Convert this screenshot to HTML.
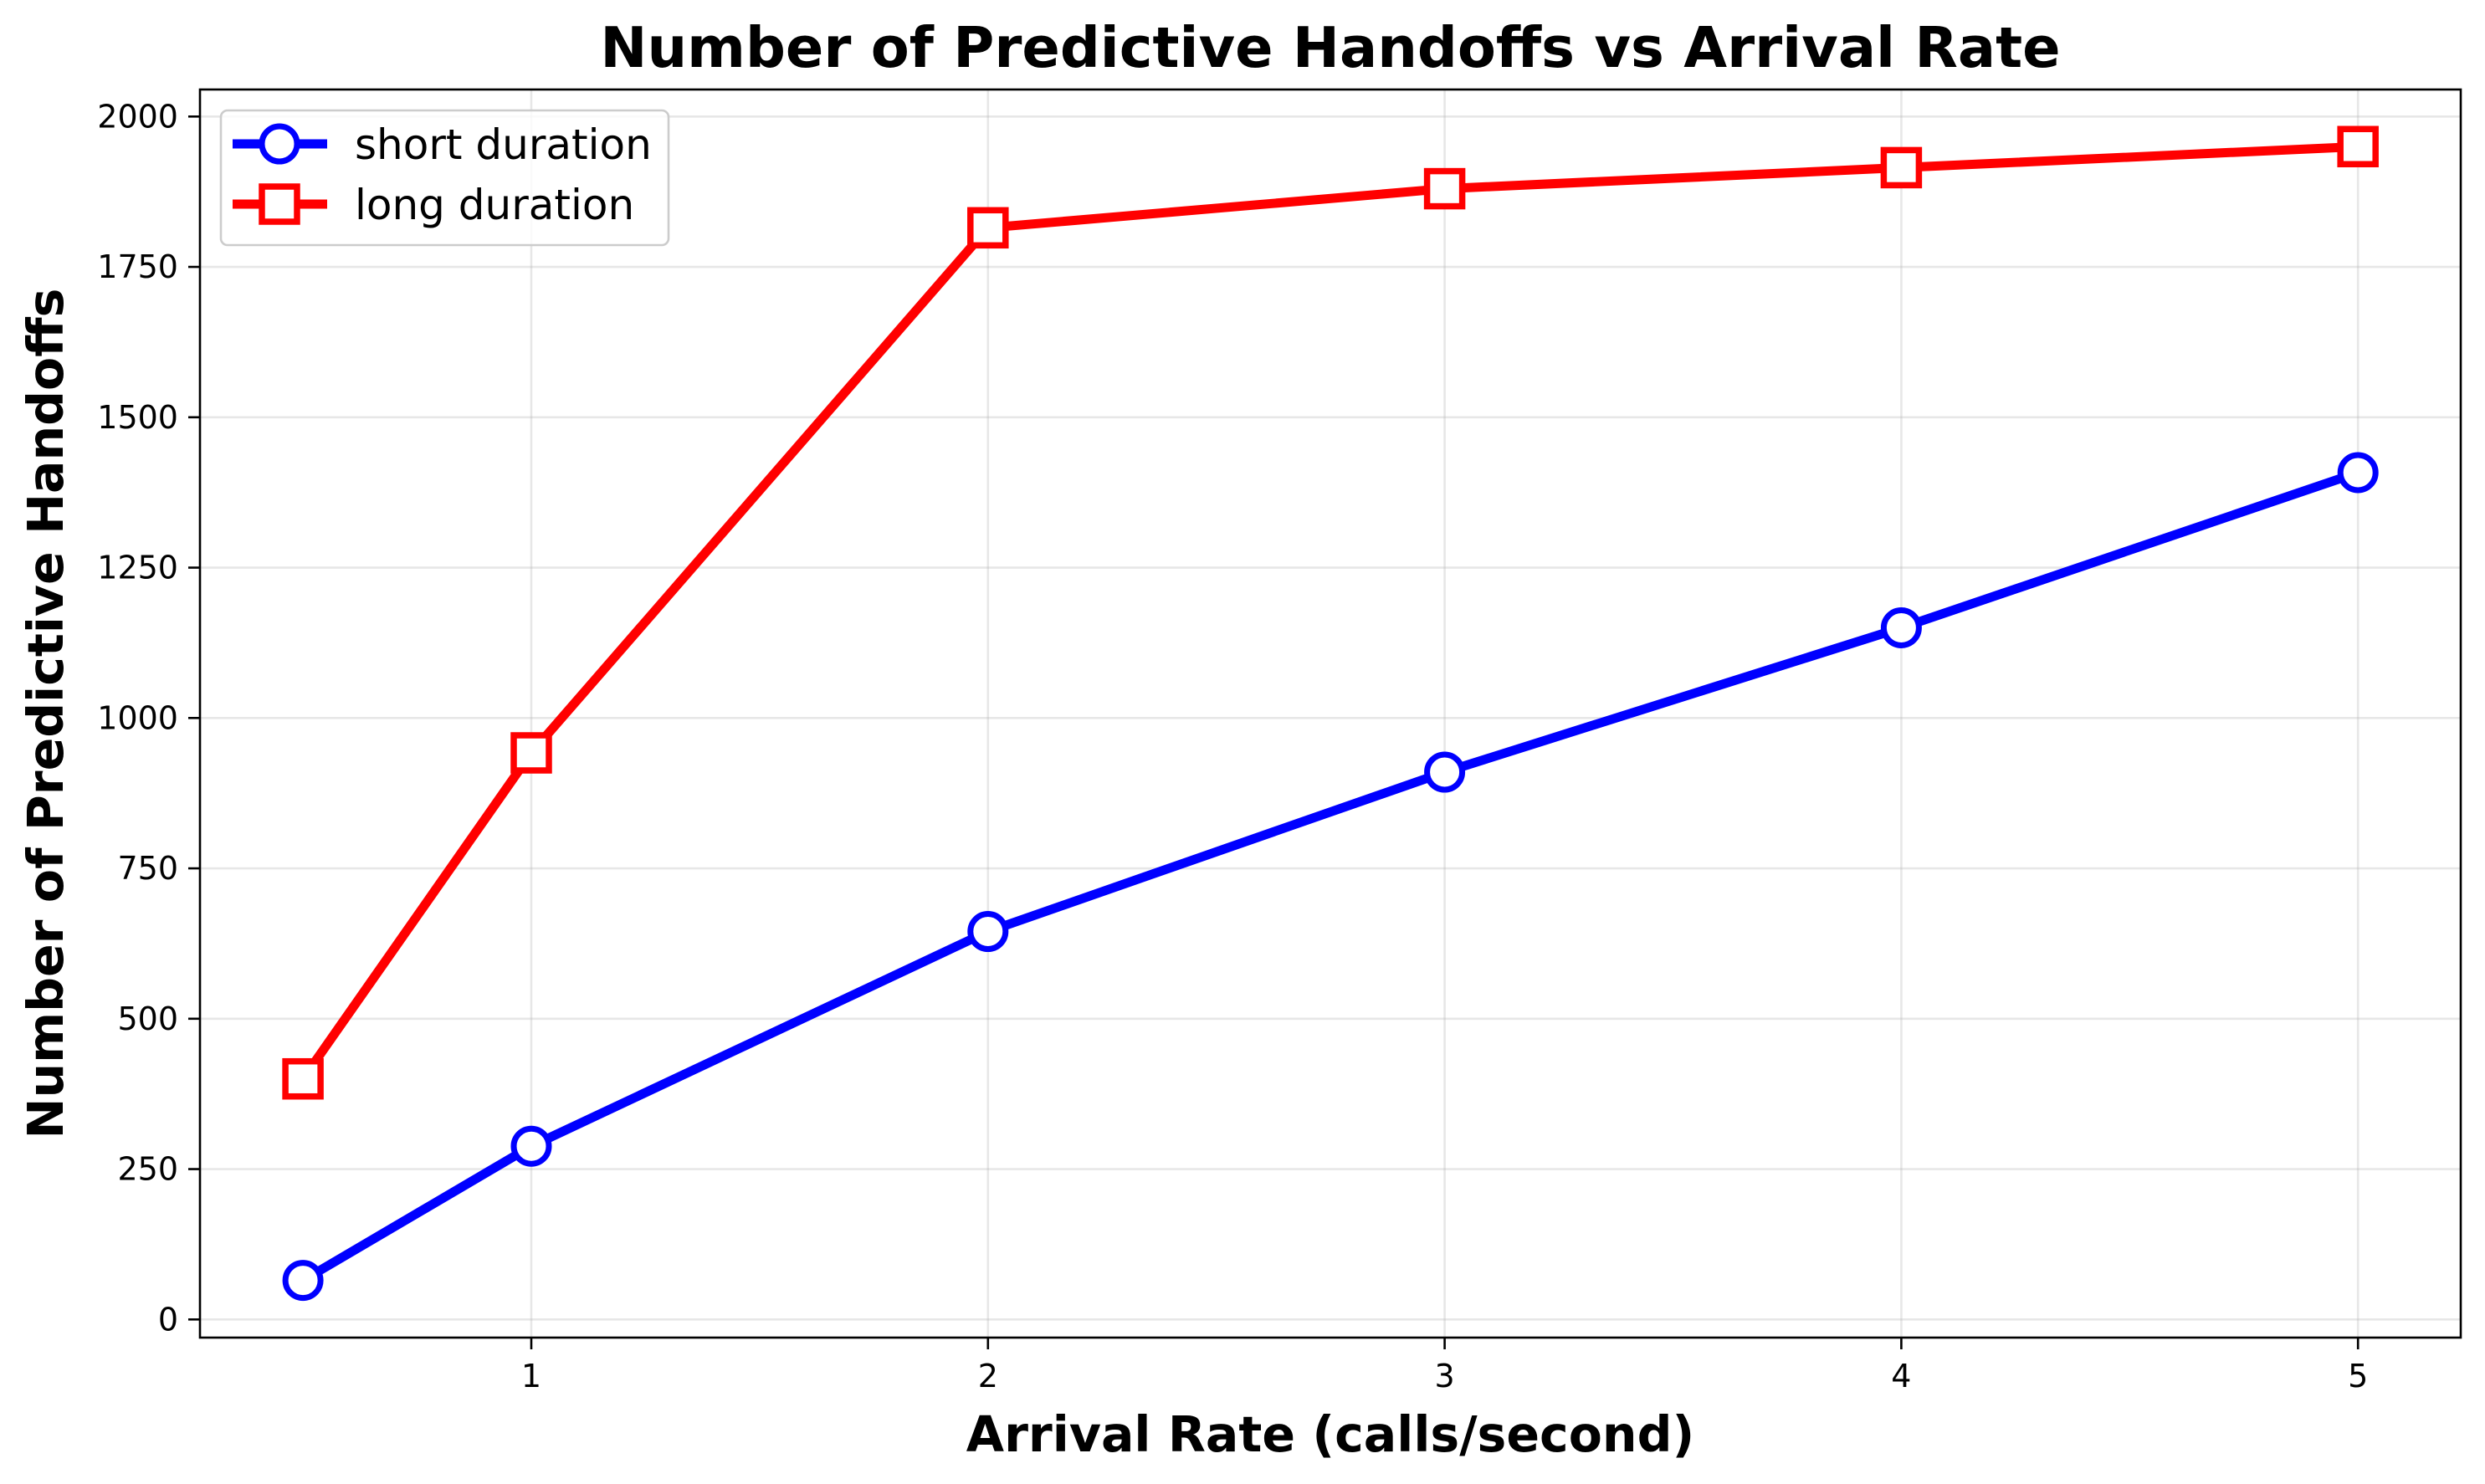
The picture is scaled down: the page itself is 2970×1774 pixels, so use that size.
<!DOCTYPE html>
<html><head><meta charset="utf-8"><style>body{margin:0;background:#fff}svg{display:block;font-family:"DejaVu Sans","Liberation Sans",sans-serif}</style></head>
<body>
<svg id="chart" width="2970" height="1774" viewBox="0 0 2970 1774" xmlns="http://www.w3.org/2000/svg">
<rect width="2970" height="1774" fill="#fff"/>
<g id="grid"></g>
<g id="series"></g>
<rect x="239" y="107" width="2702" height="1492" fill="none" stroke="#000" stroke-width="2.6"/>
<g id="ticks"></g>
<text x="1590" y="80" text-anchor="middle" font-size="67" font-weight="bold">Number of Predictive Handoffs vs Arrival Rate</text>
<text x="1590" y="1735" text-anchor="middle" font-size="58.5" font-weight="bold">Arrival Rate (calls/second)</text>
<text x="0" y="0" transform="translate(75,853) rotate(-90)" text-anchor="middle" font-size="58.5" font-weight="bold">Number of Predictive Handoffs</text>
<g>
<rect x="264" y="132" width="535" height="161" rx="8" fill="#fff" fill-opacity="0.8" stroke="#ccc" stroke-width="2.6"/>
<g>
<line x1="278" y1="172" x2="391" y2="172" stroke="#0000ff" stroke-width="11"/>
<circle cx="334" cy="172" r="21" fill="#fff" stroke="#0000ff" stroke-width="7"/>
<text x="424" y="190" font-size="50">short duration</text></g>
<g>
<line x1="278" y1="244" x2="391" y2="244" stroke="#ff0000" stroke-width="11"/>
<rect x="313" y="223" width="42" height="42" fill="#fff" stroke="#ff0000" stroke-width="7.5"/>
<text x="424" y="262" font-size="50">long duration</text></g>
</g>
</svg>
<script>
const xCats=[0.5,1,2,3,4,5];
const shortVals=[65,288,645,910,1150,1408];
const longVals=[400,942,1815,1880,1915,1950];
const xTicks=[1,2,3,4,5];
const yTicks=[0,250,500,750,1000,1250,1500,1750,2000];
const NS="http://www.w3.org/2000/svg";
const sx=v=>635+(v-1)*545.8;
const sy=v=>1577.3-v*0.719;
function mk(tag,attrs,parent){const e=document.createElementNS(NS,tag);for(const k in attrs)e.setAttribute(k,attrs[k]);parent.appendChild(e);return e;}
const grid=document.getElementById('grid'),ticks=document.getElementById('ticks'),series=document.getElementById('series');
xTicks.forEach(t=>{const x=sx(t);
const g=mk('line',{x1:x,x2:x,y1:107,y2:1599,stroke:'#b0b0b0','stroke-opacity':0.3,'stroke-width':2.6},grid);


mk('line',{x1:x,x2:x,y1:1599,y2:1613,stroke:'#000','stroke-width':2.6},ticks);
const l=mk('text',{x:x,y:1658,'text-anchor':'middle','font-size':38},ticks);l.textContent=t;

});
yTicks.forEach(t=>{const y=sy(t);
const g=mk('line',{x1:239,x2:2941,y1:y,y2:y,stroke:'#b0b0b0','stroke-opacity':0.3,'stroke-width':2.6},grid);


mk('line',{x1:225,x2:239,y1:y,y2:y,stroke:'#000','stroke-width':2.6},ticks);
const l=mk('text',{x:213,y:y+13,'text-anchor':'end','font-size':38},ticks);l.textContent=t;

});
function draw(vals,color,shape,name){
const pts=xCats.map((c,i)=>sx(c)+','+sy(vals[i])).join(' ');
const pl=mk('polyline',{points:pts,fill:'none',stroke:color,'stroke-width':11,'stroke-linejoin':'round'},series);


xCats.forEach((c,i)=>{const x=sx(c),y=sy(vals[i]);let m;
if(shape==='circle')m=mk('circle',{cx:x,cy:y,r:21,fill:'#fff',stroke:color,'stroke-width':7},series);
else m=mk('rect',{x:x-21,y:y-21,width:42,height:42,fill:'#fff',stroke:color,'stroke-width':7.5},series);

});}
draw(shortVals,'#0000ff','circle','short-duration');
draw(longVals,'#ff0000','square','long-duration');
</script>
</body></html>
